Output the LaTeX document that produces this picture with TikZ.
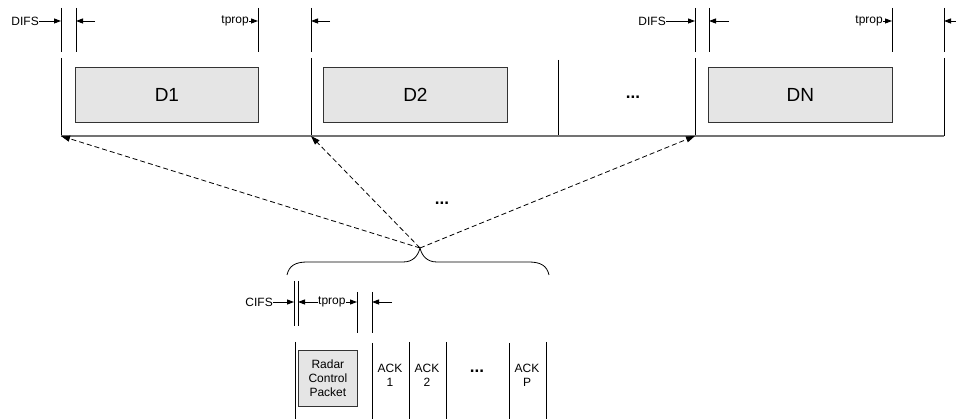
\documentclass[tikz,border=0pt]{standalone}
\usepackage{fontspec}
\setmainfont{Liberation Sans}
\usetikzlibrary{arrows.meta}
\tikzset{
  tick/.style={line width=0.9pt, black},
  base/.style={line width=1.8pt, black!55},
  pkt/.style={draw=black!80, fill=black!10, line width=0.8pt, inner sep=0pt, anchor=north west},
  lbl/.style={font=\fontsize{12}{14}\selectfont, inner sep=0pt},
  big/.style={font=\fontsize{19}{22}\selectfont},
  dots/.style={font=\fontsize{17}{20}\selectfont\bfseries, inner sep=0pt},
  dim/.style={-{Triangle[length=7pt,width=5pt]}, line width=0.9pt},
  link/.style={dash pattern=on 5pt off 3pt, -{Triangle[length=9pt,width=6pt]}, line width=0.8pt},
}
\begin{document}
\begin{tikzpicture}[x=1pt,y=-1pt]
\useasboundingbox (0,0) rectangle (956,419);

% ---- top: timing ticks
\foreach \n/\x in {a/61,b/76,c/258,d/311,e/695,f/709,g/892,h/944}{
  \coordinate (t\n) at (\x,8);
  \coordinate (m\n) at (\x,21);
  \draw[tick] (t\n) -- (\x,52);
}
\node[lbl, anchor=east] (difs1) at (39,21) {DIFS};
\draw[dim] (difs1.east) -- (ma);
\coordinate (lb) at (95,21);  \draw[dim] (lb) -- (mb);
\node[lbl, anchor=east] (tp1) at (249,21) {tprop};
\draw[dim] (tp1.east) -- (mc);
\coordinate (ld) at (330,21); \draw[dim] (ld) -- (md);
\node[lbl, anchor=east] (difs2) at (666,21) {DIFS};
\draw[dim] (difs2.east) -- (me);
\coordinate (lf) at (729,21); \draw[dim] (lf) -- (mf);
\node[lbl, anchor=east] (tp2) at (883,21) {tprop};
\draw[dim] (tp2.east) -- (mg);
\coordinate (lh) at (962,21); \draw[dim] (lh) -- (mh);

% ---- top: frame
\foreach \n/\x/\y in {a/61/58,d/311/58,k/558/60,e/695/58,h/944/58}{
  \coordinate (f\n) at (\x,136);
  \draw[tick] (\x,\y) -- (f\n);
}
\draw[base] (fa) -- (fh);

\node[pkt, big, minimum width=183pt, minimum height=55pt] (d1) at (75,67) {D1};
\node[pkt, big, minimum width=184pt, minimum height=55pt] (d2) at (323,67) {D2};
\node[pkt, big, minimum width=184pt, minimum height=55pt] (dn) at (708,67) {DN};
\node[dots] (dotsA) at (633,97) {...};

% ---- middle
\node[dots] (dotsB) at (442,203) {...};
\coordinate (tip) at (420,248);
\draw[link] (tip) -- (fa);
\draw[link] (tip) -- (fd);
\draw[link] (tip) -- (fe);
\draw[line width=0.8pt] (287,275) .. controls (289,266) and (295,262) .. (307,262)
  -- (403,262) .. controls (413,262) and (418,256) .. (tip)
  .. controls (422,256) and (427,262) .. (437,262)
  -- (529,262) .. controls (541,262) and (547,266) .. (549,275);

% ---- bottom: timing ticks
\coordinate (ca) at (294,302);
\coordinate (cb) at (298,302);
\coordinate (cc) at (357,302);
\coordinate (cd) at (372,302);
\draw[tick] (294,281) -- (294,326);
\draw[tick] (298,281) -- (298,326);
\draw[tick] (357,292) -- (357,333);
\draw[tick] (372,292) -- (372,333);
\node[lbl, anchor=east] (cifs) at (273,302) {CIFS};
\draw[dim] (cifs.east) -- (ca);
\node[lbl, anchor=west] (tp3) at (318,302) {tprop};
\draw[dim] (tp3.west) -- (cb);
\draw[dim] (tp3.east) -- (cc);
\coordinate (le) at (392,302); \draw[dim] (le) -- (cd);

% ---- bottom: frame
\foreach \x/\y in {295/342,372/343,409/342,446/342,509/343,546/342}{
  \draw[tick] (\x,\y) -- (\x,419);
}
\node[pkt, lbl, minimum width=59pt, minimum height=56pt, align=center] (rcp) at (298,350)
  {Radar\\Control\\Packet};
\node[lbl, align=center] (ack1) at (390,375) {ACK\\1};
\node[lbl, align=center] (ack2) at (427,375) {ACK\\2};
\node[dots] (dotsC) at (477,371) {...};
\node[lbl, align=center] (ackp) at (527,375) {ACK\\P};
\end{tikzpicture}
\end{document}
